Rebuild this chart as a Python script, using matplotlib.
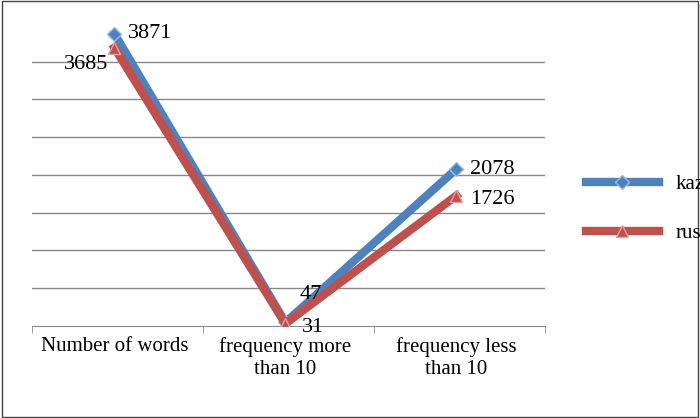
import matplotlib
matplotlib.use("Agg")
import matplotlib.pyplot as plt
from matplotlib.patches import Rectangle

categories = ["Number of words", "frequency more\nthan 10", "frequency less\nthan 10"]
kaz = [3871, 47, 2078]
rus = [3685, 31, 1726]

plt.rcParams['font.family'] = ['Liberation Serif', 'DejaVu Serif']
fig = plt.figure(figsize=(7, 4.18), dpi=100)
fig.patches.append(Rectangle((0.003, 0.003), 0.994, 0.994, transform=fig.transFigure,
                             fill=False, edgecolor='#444444', lw=1))
ax = fig.add_axes([0.046, 0.22, 0.733, 0.723])
x = [0, 1, 2]
for v in range(500, 4000, 500):
    ax.axhline(v, color='#888888', lw=1, zorder=0)
ax.plot(x, kaz, color='#4F81BD', lw=6, marker='D', ms=7, mfc='#4F81BD', mec='#9DB9E0', label='kaz', zorder=2)
ax.plot(x, rus, color='#C0504D', lw=6, marker='^', ms=8, mfc='#C0504D', mec='#E0A0A0', label='rus', zorder=3)
ax.set_xlim(-0.48, 2.52)
ax.set_ylim(0, 4000)
for s in ['top', 'right', 'left']:
    ax.spines[s].set_visible(False)
ax.spines['bottom'].set_color('#888888')
ax.set_yticks([])
ax.set_xticks([-0.48, 0.52, 1.52, 2.52], minor=True)
ax.set_xticks(x)
ax.set_xticklabels(categories, fontsize=15)
ax.tick_params(axis='x', which='major', length=0, pad=8)
ax.tick_params(axis='x', which='minor', length=5, color='#888888')
fs = 16
ax.annotate(str(kaz[0]), (0, kaz[0]), xytext=(10, 0), textcoords='offset points', fontsize=fs, va='center')
ax.annotate(str(rus[0]), (0, rus[0]), xytext=(-4, -12), textcoords='offset points', fontsize=fs, va='center', ha='right')
ax.annotate(str(kaz[1]), (1, kaz[1]), xytext=(10, 20), textcoords='offset points', fontsize=fs, va='center')
ax.annotate(str(rus[1]), (1, rus[1]), xytext=(12, -3), textcoords='offset points', fontsize=fs, va='center')
ax.annotate(str(kaz[2]), (2, kaz[2]), xytext=(10, 0), textcoords='offset points', fontsize=fs, va='center')
ax.annotate(str(rus[2]), (2, rus[2]), xytext=(10, -3), textcoords='offset points', fontsize=fs, va='center')
fig.legend(loc='center left', bbox_to_anchor=(0.81, 0.5), frameon=False, fontsize=15,
           handlelength=3.5, labelspacing=1.4)
fig.savefig("out.png", dpi=100)
